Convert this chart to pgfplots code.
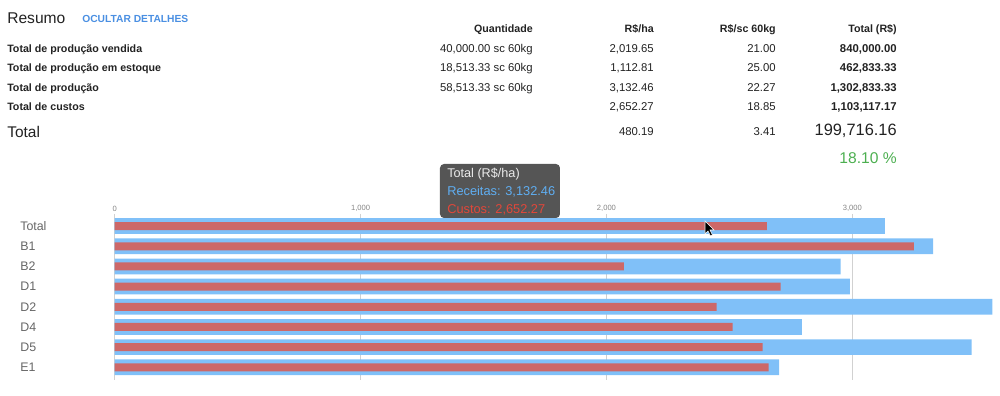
\documentclass[border=0pt]{standalone}
\usepackage{pgfplots}
\pgfplotsset{compat=1.18}
\usepackage{fontspec}
\setmainfont{Liberation Sans}
\definecolor{rec}{HTML}{80C0F8}
\definecolor{cus}{HTML}{CD6868}
\definecolor{txt}{HTML}{222222}
\definecolor{lbl}{HTML}{666666}
\definecolor{lnk}{HTML}{4A8FE2}
\definecolor{grn}{HTML}{4CAF50}
\definecolor{tip}{HTML}{555555}
\definecolor{tipb}{HTML}{5FAEF2}
\definecolor{tipr}{HTML}{E2473A}
\newcommand\row[6]{%
  \node[t,anchor=base west,font=\fontsize{8pt}{9pt}\selectfont\bfseries] at (7,#1) {#2};
  \node[t,anchor=base east,font=\fontsize{8.5pt}{9pt}\selectfont] at (533,#1) {#3};
  \node[t,anchor=base east,font=\fontsize{8.5pt}{9pt}\selectfont] at (654,#1) {#4};
  \node[t,anchor=base east,font=\fontsize{8.5pt}{9pt}\selectfont] at (776,#1) {#5};
  \node[t,anchor=base east,font=\fontsize{8.5pt}{9pt}\selectfont\bfseries] at (897,#1) {#6};
}
\begin{document}
\begin{tikzpicture}
\begin{scope}[x=0.75pt,y=-0.75pt]
\path[use as bounding box] (0,0) rectangle (1000,396);
\coordinate (A) at (114.7,214);
\tikzset{t/.style={inner sep=0pt,text=txt}}
% title
\node[t,anchor=base west,font=\fontsize{11.7pt}{13pt}\selectfont] at (7,23.3) {Resumo};
\node[t,anchor=base west,text=lnk,font=\fontsize{7.7pt}{9pt}\selectfont\bfseries] at (82,22.7) {OCULTAR DETALHES};
% headers
\node[t,anchor=base east,font=\fontsize{8pt}{9pt}\selectfont\bfseries] at (533,32.3) {Quantidade};
\node[t,anchor=base east,font=\fontsize{8pt}{9pt}\selectfont\bfseries] at (654,32.3) {R\$/ha};
\node[t,anchor=base east,font=\fontsize{8pt}{9pt}\selectfont\bfseries] at (776,32.3) {R\$/sc 60kg};
\node[t,anchor=base east,font=\fontsize{8pt}{9pt}\selectfont\bfseries] at (897,32.3) {Total (R\$)};
% rows
\row{52.4}{Total de produção vendida}{40,000.00 sc 60kg}{2,019.65}{21.00}{840,000.00}
\row{71.8}{Total de produção em estoque}{18,513.33 sc 60kg}{1,112.81}{25.00}{462,833.33}
\row{91.1}{Total de produção}{58,513.33 sc 60kg}{3,132.46}{22.27}{1,302,833.33}
\row{110.4}{Total de custos}{}{2,652.27}{18.85}{1,103,117.17}
\node[t,anchor=base west,font=\fontsize{11.6pt}{13pt}\selectfont] at (7,137.3) {Total};
\node[t,anchor=base east,font=\fontsize{8.5pt}{9pt}\selectfont] at (654,136) {480.19};
\node[t,anchor=base east,font=\fontsize{8.5pt}{9pt}\selectfont] at (776,136) {3.41};
\node[t,anchor=base east,font=\fontsize{12.3pt}{14pt}\selectfont] at (897,136) {199,716.16};
\node[t,anchor=base east,text=grn,font=\fontsize{11.7pt}{13pt}\selectfont] at (897,163.3) {18.10 \%};
\end{scope}
\begin{axis}[at={(A)}, anchor=north west, scale only axis,
  width=663.9pt, height=124.5pt,
  xmin=0, xmax=3600, ymin=-0.6, ymax=7.63, y dir=reverse,
  axis line style={draw=none}, major tick length=0pt,
  xtick={0,1000,2000,3000}, xticklabel pos=upper,
  xticklabels={0,{1,000},{2,000},{3,000}},
  xticklabel style={font=\fontsize{5.7pt}{6pt}\selectfont, text=lbl!80, inner sep=0pt, anchor=south, yshift=1.5pt},
  ytick={0,...,7},
  yticklabels={Total,B1,B2,D1,D2,D4,D5,E1},
  yticklabel style={font=\fontsize{9.3pt}{10pt}\selectfont, text=lbl, inner sep=0pt, anchor=west, xshift=-71pt},
  xmajorgrids, grid style={draw=black!18, line width=0.6pt},
  clip=false]
\addplot[xbar, bar shift=0pt, bar width=11.8pt, fill=rec, draw=none] coordinates {
 (3132.46,0) (3329,1) (2952,2) (2990,3) (3569,4) (2795,5) (3485,6) (2702,7)};
\addplot[xbar, bar shift=0pt, bar width=6pt, fill=cus, draw=none] coordinates {
 (2652.27,0) (3250,1) (2071,2) (2708,3) (2448,4) (2513,5) (2635,6) (2660,7)};
\end{axis}
\begin{scope}[x=0.75pt,y=-0.75pt]
\fill[tip, rounded corners=3pt] (440,164) rectangle (560,218);
\node[inner sep=0pt,anchor=base west,text=white!92!black,font=\fontsize{9.5pt}{10pt}\selectfont] at (447,177.5) {Total (R\$/ha)};
\node[inner sep=0pt,anchor=base west,text=tipb,font=\fontsize{9.6pt}{10pt}\selectfont] at (447,195.5) {Receitas: 3,132.46};
\node[inner sep=0pt,anchor=base west,text=tipr,font=\fontsize{9.6pt}{10pt}\selectfont] at (447,213.5) {Custos: 2,652.27};
% mouse pointer
\filldraw[fill=black,draw=white,line width=0.4pt] (705,221) -- (705,234) -- (708,231) -- (710.5,236) -- (712.5,235) -- (710,230) -- (714,230) -- cycle;
\end{scope}
\end{tikzpicture}
\end{document}
